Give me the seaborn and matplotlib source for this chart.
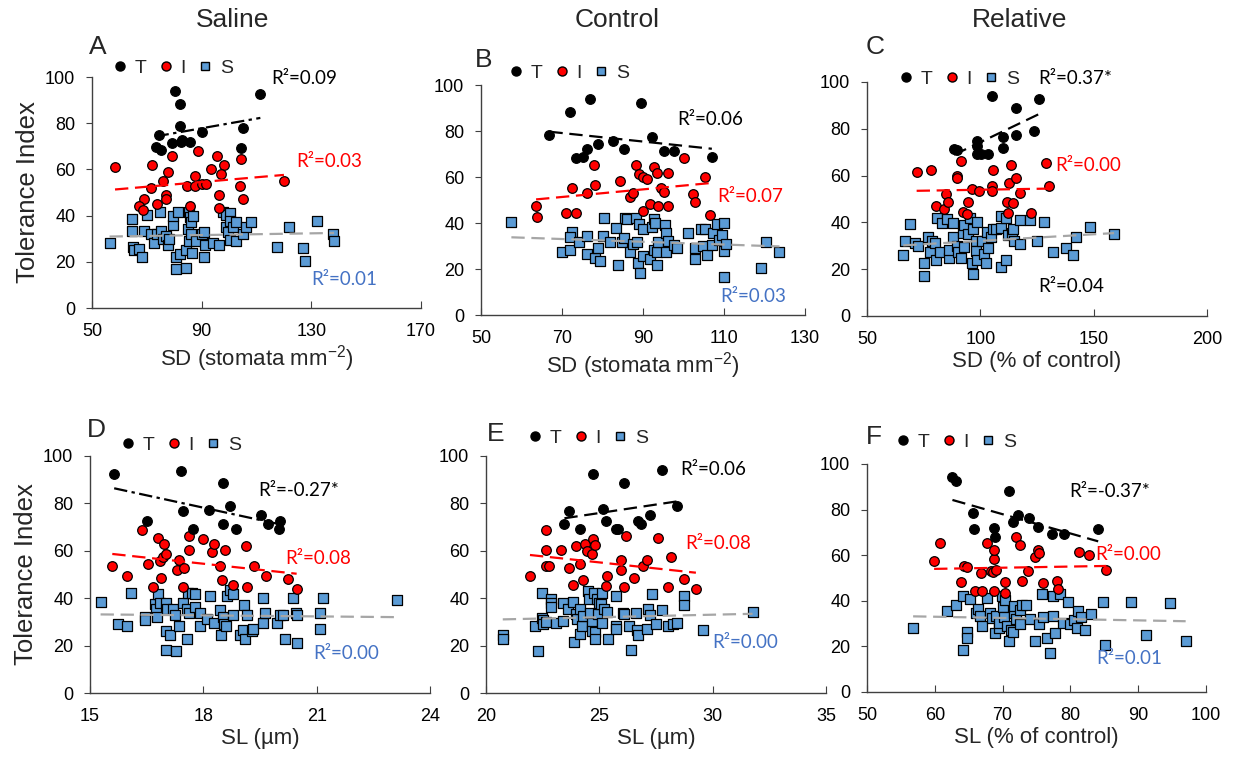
import matplotlib
matplotlib.use("Agg")
import matplotlib.pyplot as plt
from matplotlib.lines import Line2D
import seaborn as sns

# ---- values: (x, tolerance index) ----
# A: saline, stomatal density
a_t = [(80.2, 94.0), (82.0, 88.5), (82.0, 78.7), (74.5, 74.8), (73.2, 69.5), (75.0, 68.6), (79.0, 71.5),
       (82.6, 72.0), (83.0, 72.7), (85.6, 71.8), (90.0, 76.3), (105.0, 78.0), (104.5, 69.4), (111.4, 92.5)]
a_i = [(58.4, 61.0), (72.0, 61.9), (79.0, 65.8), (77.8, 59.0), (75.9, 55.0), (71.4, 52.0), (69.0, 47.2),
       (67.0, 44.3), (68.5, 42.5), (73.8, 45.0), (76.9, 48.9), (76.9, 47.2), (84.5, 52.7), (87.6, 57.3),
       (88.8, 68.0), (87.6, 52.7), (90.0, 53.5), (91.4, 53.5), (93.3, 60.3), (95.7, 65.8), (98.0, 61.9),
       (96.9, 58.0), (96.3, 48.9), (96.3, 43.5), (85.6, 44.3), (103.9, 52.7), (104.5, 64.7), (105.0, 47.2),
       (120.0, 54.8)]
a_s = [(56.4, 28.0), (64.6, 38.7), (64.6, 33.4), (65.0, 26.6), (65.2, 24.9), (67.0, 25.5), (68.4, 21.9),
       (69.0, 33.4), (70.2, 40.3), (71.4, 31.9), (72.7, 28.3), (73.8, 31.9), (74.7, 41.7), (75.0, 33.4),
       (75.9, 29.8), (77.0, 31.2), (77.8, 27.3), (78.2, 29.8), (79.5, 35.8), (79.5, 39.9), (80.7, 16.8),
       (80.7, 21.9), (81.3, 41.7), (82.0, 23.3), (84.4, 17.3), (84.4, 24.9), (85.0, 34.2), (85.2, 41.7),
       (85.2, 29.2), (85.6, 39.3), (86.2, 37.3), (86.4, 23.7), (86.8, 39.9), (86.2, 32.0), (88.0, 28.8),
       (90.0, 31.9), (90.7, 33.0), (91.2, 27.3), (90.7, 21.9), (94.0, 28.0), (96.3, 27.3), (97.6, 41.7),
       (99.0, 40.3), (100.3, 41.0), (99.0, 35.2), (99.6, 32.7), (100.3, 37.8), (101.5, 35.2), (100.3, 29.5),
       (102.7, 37.4), (102.7, 28.8), (105.0, 32.0), (106.3, 35.0), (108.0, 37.1), (117.6, 26.6),
       (121.9, 35.0), (127.0, 25.9), (127.7, 20.4), (132.0, 37.8), (137.8, 32.1), (138.3, 28.8)]

# B: control, stomatal density
b_t = [(66.9, 78.3), (72.0, 88.4), (76.9, 93.8), (73.5, 68.1), (75.3, 68.8), (76.2, 72.2), (78.8, 74.3),
       (82.7, 75.8), (85.4, 72.2), (89.6, 92.0), (92.2, 77.5), (95.2, 71.2), (97.7, 71.2), (107.0, 68.8)]
b_i = [(63.6, 47.4), (63.8, 42.8), (71.0, 44.3), (72.4, 55.1), (73.5, 44.3), (76.2, 52.9), (78.2, 56.5),
       (77.8, 65.2), (84.2, 58.3), (86.7, 51.2), (87.5, 52.9), (88.3, 65.2), (89.1, 61.3), (90.1, 59.9),
       (90.9, 59.0), (90.1, 45.1), (91.8, 48.3), (92.6, 64.5), (93.4, 61.9), (94.5, 55.1), (95.1, 53.6),
       (93.6, 47.4), (96.1, 61.9), (96.1, 47.4), (100.2, 68.1), (102.3, 52.6), (102.8, 49.0), (105.3, 59.9),
       (106.6, 43.5)]
b_s = [(57.5, 40.3), (70.1, 27.5), (72.0, 28.3), (72.4, 36.2), (72.0, 33.8), (74.1, 31.9), (76.2, 34.5),
       (76.2, 26.5), (78.2, 24.9), (79.0, 29.0), (79.5, 23.6), (80.1, 34.5), (80.3, 42.0), (81.9, 31.9),
       (83.4, 37.7), (83.8, 21.7), (84.8, 31.9), (85.4, 33.3), (85.6, 42.0), (86.0, 41.6), (86.7, 27.5),
       (87.5, 30.7), (88.5, 31.9), (88.3, 42.0), (89.0, 39.6), (88.8, 22.5), (89.3, 18.1), (90.0, 37.3),
       (90.1, 25.7), (91.8, 24.2), (92.2, 38.1), (92.6, 41.6), (92.6, 28.3), (93.0, 40.2), (93.4, 27.5),
       (93.4, 21.7), (93.8, 31.9), (95.4, 39.0), (95.8, 35.5), (95.7, 27.5), (96.1, 32.3), (97.6, 30.4),
       (98.5, 29.3), (101.0, 35.5), (102.9, 29.3), (102.9, 24.2), (104.3, 37.3), (105.2, 37.3),
       (104.8, 30.0), (105.8, 26.1), (107.0, 30.4), (107.4, 35.5), (108.3, 39.4), (108.7, 32.5),
       (109.5, 35.0), (110.0, 40.2), (110.0, 27.8), (110.4, 31.0), (110.0, 16.7), (119.2, 20.3),
       (120.4, 31.9), (123.7, 27.2)]

# C: relative, stomatal density
c_t = [(88.4, 71.5), (89.5, 71.1), (98.4, 74.7), (98.4, 72.5), (98.4, 69.4), (100.2, 69.1), (103.2, 69.1),
       (105.1, 94.2), (110.0, 76.5), (109.8, 72.0), (115.9, 88.9), (115.9, 77.5), (123.6, 79.0),
       (125.8, 92.6)]
c_i = [(71.9, 61.6), (78.1, 62.6), (80.3, 47.1), (84.1, 45.6), (84.9, 52.0), (85.6, 48.8), (89.6, 59.9),
       (91.5, 66.1), (89.9, 58.8), (92.5, 44.5), (94.0, 43.4), (94.7, 48.8), (96.2, 54.2), (99.2, 53.3),
       (105.1, 55.6), (105.1, 53.3), (105.8, 62.6), (111.7, 48.8), (112.0, 43.9), (112.8, 57.0),
       (113.6, 64.7), (114.4, 48.1), (115.9, 58.8), (117.4, 52.6), (122.5, 44.2), (129.0, 65.4),
       (130.4, 55.6)]
c_s = [(66.0, 25.9), (66.8, 32.1), (69.0, 39.5), (71.1, 31.4), (72.6, 29.9), (75.1, 22.5), (75.1, 17.1),
       (77.0, 33.6), (78.5, 32.1), (77.8, 27.5), (80.2, 31.0), (80.5, 23.9), (80.7, 42.0), (82.2, 27.5),
       (83.3, 39.8), (85.4, 41.3), (86.3, 25.0), (86.3, 28.2), (87.8, 39.8), (87.8, 33.6), (89.6, 29.9),
       (90.3, 27.5), (91.3, 24.9), (92.5, 35.3), (92.8, 39.1), (92.8, 29.3), (94.7, 35.0), (95.4, 41.7),
       (96.9, 37.1), (96.2, 22.5), (96.9, 17.8), (98.1, 32.1), (98.1, 27.7), (98.4, 40.3), (98.4, 23.9),
       (100.7, 32.1), (101.4, 26.7), (102.6, 22.5), (102.9, 36.0), (103.2, 28.9), (104.6, 33.6),
       (105.8, 37.1), (107.0, 37.1), (109.1, 37.8), (109.1, 20.8), (109.1, 42.7), (111.4, 42.0),
       (111.4, 23.9), (112.0, 34.6), (113.9, 35.3), (114.4, 37.1), (115.0, 32.1), (117.4, 30.6),
       (117.4, 41.0), (121.8, 41.0), (125.0, 32.1), (128.0, 40.3), (132.0, 27.5), (138.0, 28.9),
       (140.8, 25.9), (142.3, 33.6), (148.4, 38.1), (159.0, 35.0)]

# D: saline, stomatal length
d_t = [(15.64, 92.5), (16.50, 72.4), (17.41, 93.8), (17.45, 76.6), (17.72, 69.2), (18.16, 77.4),
       (18.51, 88.5), (18.53, 71.4), (18.71, 78.9), (18.86, 69.3), (19.53, 75.2), (19.72, 71.4),
       (20.00, 69.3), (20.02, 72.4)]
d_i = [(15.59, 53.4), (15.99, 49.2), (16.37, 68.6), (16.54, 54.3), (16.68, 44.7), (16.81, 65.5),
       (16.84, 55.7), (16.87, 48.5), (16.92, 57.4), (16.96, 62.7), (17.00, 58.8), (17.31, 52.0),
       (17.36, 56.0), (17.45, 44.7), (17.49, 52.9), (17.62, 66.2), (17.63, 60.5), (18.00, 64.8),
       (18.22, 59.5), (18.27, 62.7), (18.44, 53.4), (18.50, 47.5), (18.57, 60.5), (18.79, 45.4),
       (19.13, 61.9), (19.16, 44.7), (19.34, 53.4), (19.66, 49.2), (20.25, 48.2), (20.47, 44.0)]
d_s = [(15.28, 38.4), (15.73, 29.0), (15.99, 28.1), (16.09, 42.2), (16.46, 32.1), (16.46, 30.7),
       (16.72, 37.7), (16.75, 35.6), (16.77, 32.1), (16.81, 41.9), (16.86, 38.0), (17.01, 38.0),
       (17.03, 35.6), (17.01, 26.2), (17.01, 18.3), (17.12, 24.3), (17.19, 35.6), (17.25, 32.8),
       (17.27, 17.7), (17.36, 28.1), (17.45, 38.0), (17.56, 35.6), (17.60, 42.2), (17.63, 33.9),
       (17.57, 22.9), (17.69, 42.2), (17.78, 41.9), (17.78, 36.3), (17.91, 33.9), (17.91, 28.1),
       (18.09, 31.1), (18.18, 40.8), (18.27, 29.5), (18.44, 34.9), (18.48, 24.3), (18.53, 32.1),
       (18.55, 29.0), (18.60, 28.1), (18.62, 40.8), (18.71, 43.3), (18.78, 41.9), (18.78, 32.8),
       (18.96, 24.3), (19.04, 26.7), (19.08, 37.0), (19.09, 22.9), (19.15, 32.8), (19.28, 26.2),
       (19.32, 27.1), (19.57, 40.2), (19.59, 29.5), (19.63, 33.9), (19.94, 29.5), (20.03, 32.8),
       (20.10, 32.8), (20.16, 22.9), (20.38, 40.2), (20.45, 33.9), (20.47, 32.8), (20.47, 21.2),
       (21.10, 33.9), (21.10, 27.1), (21.16, 40.2), (23.12, 39.4)]

# E: control, stomatal length
e_t = [(23.46, 71.4), (23.68, 76.8), (24.15, 69.3), (24.74, 92.5), (25.18, 77.5), (25.28, 72.4),
       (25.74, 69.3), (25.81, 69.1), (26.10, 88.7), (26.72, 72.4), (26.84, 71.4), (27.24, 75.2),
       (27.78, 94.2), (28.44, 78.9)]
e_i = [(21.94, 49.2), (22.63, 68.6), (22.63, 60.2), (22.63, 53.6), (22.78, 53.6), (23.31, 60.5),
       (23.68, 52.9), (23.85, 45.4), (23.97, 61.9), (24.15, 54.3), (24.29, 47.5), (24.37, 62.7),
       (24.44, 59.9), (24.66, 58.8), (24.74, 64.8), (24.81, 62.3), (25.28, 45.0), (25.35, 49.2),
       (25.94, 56.0), (25.94, 52.0), (26.10, 44.7), (26.18, 66.4), (26.54, 48.5), (26.91, 53.6),
       (27.09, 56.0), (27.60, 65.5), (28.04, 44.7), (28.15, 57.4), (28.74, 48.2), (29.26, 43.7)]
e_s = [(20.74, 24.3), (20.74, 22.9), (22.16, 28.1), (22.31, 17.7), (22.46, 42.2), (22.49, 31.8),
       (22.53, 30.7), (22.53, 29.0), (22.63, 29.9), (22.85, 39.8), (22.85, 38.0), (22.85, 36.3),
       (23.09, 29.7), (23.38, 38.0), (23.41, 30.2), (23.60, 35.6), (23.85, 38.4), (23.90, 21.5),
       (23.97, 33.2), (24.03, 31.1), (24.15, 35.6), (24.15, 24.8), (24.24, 28.1), (24.26, 32.3),
       (24.51, 43.0), (24.56, 39.8), (24.59, 33.9), (24.66, 29.7), (24.66, 26.2), (24.78, 42.2),
       (24.81, 25.7), (24.81, 22.9), (24.88, 39.8), (24.96, 33.5), (25.00, 38.0), (25.06, 37.7),
       (25.13, 42.2), (25.13, 29.7), (25.22, 35.6), (25.32, 34.2), (25.40, 22.9), (25.72, 40.8),
       (25.72, 28.3), (25.74, 26.9), (26.03, 33.9), (26.10, 33.5), (26.32, 28.1), (26.40, 18.3),
       (26.62, 33.9), (26.65, 26.7), (26.72, 24.3), (27.09, 27.1), (27.16, 35.6), (27.24, 32.8),
       (27.31, 41.6), (27.49, 29.0), (27.78, 34.9), (28.04, 28.1), (28.24, 29.3), (28.44, 29.5),
       (28.74, 40.8), (28.74, 37.0), (29.59, 26.7), (31.76, 34.2)]

# F: relative, stomatal length
f_t = [(62.6, 94.3), (63.2, 92.6), (65.6, 78.4), (65.8, 71.6), (68.8, 71.8), (68.9, 68.2), (71.0, 88.0),
       (71.5, 74.5), (72.2, 77.7), (73.9, 76.2), (75.2, 72.3), (77.3, 69.2), (79.0, 69.2), (84.1, 71.6)]
f_i = [(59.9, 57.5), (60.8, 65.2), (63.8, 48.1), (64.3, 55.3), (64.7, 55.0), (65.9, 44.4), (66.8, 52.1),
       (66.9, 44.4), (67.7, 65.2), (68.3, 53.1), (68.6, 52.8), (68.7, 58.2), (68.7, 62.3), (68.7, 44.4),
       (69.0, 53.5), (70.4, 48.1), (70.3, 43.5), (72.0, 68.2), (72.5, 64.5), (72.8, 48.8), (73.8, 53.1),
       (74.8, 59.1), (75.2, 62.3), (75.3, 60.9), (76.0, 47.7), (78.0, 48.8), (78.2, 45.2), (81.2, 61.6),
       (82.7, 60.1), (85.3, 53.5)]
f_s = [(56.8, 27.9), (61.8, 35.6), (63.1, 38.1), (64.2, 42.1), (64.7, 26.4), (64.7, 23.9), (64.2, 18.6),
       (65.2, 40.6), (66.1, 34.8), (66.4, 36.2), (66.7, 33.4), (66.9, 28.9), (67.7, 41.1), (68.1, 34.8),
       (68.5, 32.3), (68.9, 25.7), (69.1, 33.4), (69.4, 27.9), (69.5, 30.4), (69.9, 42.1), (70.1, 37.4),
       (70.2, 33.1), (70.4, 40.3), (70.6, 28.9), (71.0, 22.4), (71.3, 27.4), (71.5, 26.4), (71.7, 34.8),
       (71.7, 37.7), (72.0, 31.8), (72.5, 29.8), (72.5, 35.9), (72.8, 38.1), (73.5, 38.1), (74.1, 31.8),
       (74.8, 22.4), (75.4, 29.8), (75.8, 43.0), (75.9, 32.7), (76.5, 23.9), (77.0, 17.2), (77.4, 42.1),
       (77.5, 33.4), (77.8, 25.7), (78.5, 43.0), (78.9, 30.4), (79.6, 39.6), (80.0, 29.8), (80.5, 31.5),
       (80.9, 27.9), (81.1, 35.6), (81.6, 32.7), (82.2, 27.1), (83.0, 34.2), (84.8, 39.6), (85.1, 20.8),
       (88.9, 39.6), (91.1, 24.9), (94.7, 38.9), (97.0, 22.4)]

RED = "#FF0000"
BLUE = "#5B9BD5"
BLUE_TXT = "#4472C4"
GRAY = "#A6A6A6"
AXC = "#404040"
W, H = 1233, 769

DASH = (0, (6, 3))
DASHDOT = (0, (6, 2, 1.5, 2))

panels = [
    dict(letter="A", t=a_t, i=a_i, s=a_s, rect=[92, 77, 421, 308], xlim=(50, 170), xticks=[50, 90, 130, 170],
         xlabel="SD (stomata mm$^{-2}$)", ylabel=True, letter_px=(89, 47), leg_px=(112, 68), t_ls=DASHDOT,
         r2=[("R²=0.09", 115.3, 99.3, "black"), ("R²=0.03", 124.6, 63.3, RED), ("R²=0.01", 130, 12.2, BLUE_TXT)]),
    dict(letter="B", t=b_t, i=b_i, s=b_s, rect=[481, 85, 805, 315], xlim=(50, 130), xticks=list(range(50, 131, 20)),
         xlabel="SD (stomata mm$^{-2}$)", ylabel=False, letter_px=(475, 60), leg_px=(508, 73), t_ls=DASH,
         r2=[("R²=0.06", 98.4, 84.8, "black"), ("R²=0.07", 108.4, 51.4, RED), ("R²=0.03", 109, 8.0, BLUE_TXT)]),
    dict(letter="C", t=c_t, i=c_i, s=c_s, rect=[867, 82, 1207, 316], xlim=(50, 200), xticks=[50, 100, 150, 200],
         xlabel="SD (% of control)", ylabel=False, letter_px=(866, 47), leg_px=(898, 79), t_ls=DASH,
         r2=[("R²=0.37*", 125.5, 101.4, "black"), ("R²=0.00", 133.2, 64.4, RED), ("R²=0.04", 125.5, 12.5, "black")]),
    dict(letter="D", t=d_t, i=d_i, s=d_s, rect=[90, 456, 430, 693], xlim=(15, 24), xticks=[15, 18, 21, 24],
         xlabel="SL (µm)", ylabel=True, letter_px=(87, 430), leg_px=(120, 445), t_ls=DASHDOT,
         r2=[("R²=-0.27*", 19.46, 85.5, "black"), ("R²=0.08", 20.16, 56.7, RED), ("R²=0.00", 20.91, 16.6, BLUE_TXT)]),
    dict(letter="E", t=e_t, i=e_i, s=e_s, rect=[486, 456, 826, 693], xlim=(20, 35), xticks=[20, 25, 30, 35],
         xlabel="SL (µm)", ylabel=False, letter_px=(487, 434), leg_px=(527, 438), t_ls=DASH,
         r2=[("R²=0.06", 28.59, 94.2, "black"), ("R²=0.08", 28.78, 63.0, RED), ("R²=0.00", 29.96, 21.1, BLUE_TXT)]),
    dict(letter="F", t=f_t, i=f_i, s=f_s, rect=[867, 464, 1206, 692], xlim=(50, 100), xticks=list(range(50, 101, 10)),
         xlabel="SL (% of control)", ylabel=False, letter_px=(866, 437), leg_px=(895, 442), t_ls=DASH,
         r2=[("R²=-0.37*", 79.8, 88.0, "black"), ("R²=0.00", 83.6, 60.1, RED), ("R²=0.01", 83.8, 14.7, BLUE_TXT)]),
]

sns.set_style("ticks")
plt.rcParams["font.family"] = ["Liberation Sans", "DejaVu Sans"]
plt.rcParams["mathtext.default"] = "regular"

fig = plt.figure(figsize=(W / 100, H / 100), dpi=100)

for p in panels:
    x0, y0, x1, y1 = p["rect"]
    ax = fig.add_axes([x0 / W, 1 - y1 / H, (x1 - x0) / W, (y1 - y0) / H])

    groups = [(p["s"], "s", BLUE, GRAY, DASH), (p["i"], "o", RED, RED, DASH), (p["t"], "o", "black", "black", p["t_ls"])]
    for pts, mk, fc, lc, ls in groups:
        xs = [q[0] for q in pts]
        ys = [q[1] for q in pts]
        sns.scatterplot(x=xs, y=ys, marker=mk, s=48, color=fc, edgecolor="black", linewidth=0.9, ax=ax, zorder=3)
    for pts, mk, fc, lc, ls in groups:
        xs = [q[0] for q in pts]
        ys = [q[1] for q in pts]
        sns.regplot(x=xs, y=ys, scatter=False, ci=None, truncate=True, color=lc, ax=ax,
                    line_kws={"ls": ls, "lw": 1.6, "zorder": 4})

    ax.set_xlim(*p["xlim"])
    ax.set_ylim(0, 100)
    ax.set_xticks(p["xticks"])
    ax.set_yticks(range(0, 101, 20))
    sns.despine(ax=ax)
    for sp in ["left", "bottom"]:
        ax.spines[sp].set_color(AXC)
        ax.spines[sp].set_linewidth(1.0)
    ax.tick_params(axis="y", direction="out", length=4, color=AXC, labelsize=13, labelcolor="black", pad=8)
    ax.tick_params(axis="x", direction="in", length=5, color=AXC, labelsize=13, labelcolor="black", pad=11)
    ax.set_xlabel(p["xlabel"], fontsize=16, labelpad=2)
    if p["ylabel"]:
        ax.set_ylabel("Tolerance Index", fontsize=18.5, labelpad=4)
    else:
        ax.set_ylabel("")

    for txt, tx, ty, col in p["r2"]:
        ax.text(tx, ty, txt, color=col, fontsize=13.5, family=["Lato", "DejaVu Sans"],
                ha="left", va="center", clip_on=False, zorder=5)

    lx, ly = p["letter_px"]
    fig.text(lx / W, 1 - ly / H, p["letter"], fontsize=19, ha="left", va="center")

    handles = [
        Line2D([], [], ls="none", marker="o", markersize=6.5, markerfacecolor="black", markeredgecolor="black", label="T"),
        Line2D([], [], ls="none", marker="o", markersize=6.5, markerfacecolor=RED, markeredgecolor="black", label="I"),
        Line2D([], [], ls="none", marker="s", markersize=6, markerfacecolor=BLUE, markeredgecolor="black", label="S"),
    ]
    gx, gy = p["leg_px"]
    ax.legend(handles=handles, loc="center left", bbox_to_anchor=(gx / W, 1 - gy / H),
              bbox_transform=fig.transFigure, ncol=3, frameon=False, fontsize=14,
              handlelength=0.8, handletextpad=0.35, columnspacing=0.6, borderpad=0, borderaxespad=0)

fig.text(233 / W, 1 - 20 / H, "Saline", fontsize=19, ha="center", va="center")
fig.text(617 / W, 1 - 20 / H, "Control", fontsize=19, ha="center", va="center")
fig.text(1020 / W, 1 - 20 / H, "Relative", fontsize=19, ha="center", va="center")

fig.savefig("out.png", dpi=100)
